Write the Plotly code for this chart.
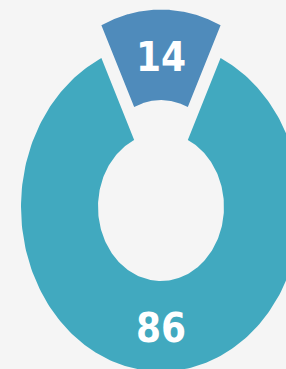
import numpy as np
import plotly.graph_objects as go

# ---- data ----
labels = ["Segment A", "Segment B"]
values = [14, 86]
colors = ["#4F8BBB", "#41A9BF"]
pulls = [0.2, 0.0]

HOLE = 0.45
BG = "#F5F5F5"
LABEL_DY = -0.036  # small visual correction for text baseline

total = float(sum(values))
fig = go.Figure()

angle = -values[0] / total * 180.0  # centre first slice at the top
for lab, v, c, p in zip(labels, values, colors, pulls):
    span = v / total * 360.0
    th = np.radians(np.linspace(angle, angle + span, 240))
    mid = np.radians(angle + span / 2.0)
    dx, dy = p * np.sin(mid), p * np.cos(mid)
    xs = np.concatenate([np.sin(th), HOLE * np.sin(th[::-1])]) + dx
    ys = np.concatenate([np.cos(th), HOLE * np.cos(th[::-1])]) + dy
    fig.add_trace(go.Scatter(
        x=xs, y=ys, fill="toself", fillcolor=c, mode="lines",
        line=dict(width=0, color=c), name=lab, hoverinfo="skip",
        showlegend=False))
    rm = (1 + HOLE) / 2.0
    fig.add_trace(go.Scatter(
        x=[rm * np.sin(mid) + dx], y=[rm * np.cos(mid) + dy + LABEL_DY],
        mode="text", text=[str(v)],
        textfont=dict(family="Liberation Sans Narrow, DejaVu Sans Condensed, sans-serif",
                      size=40, color="white", weight="bold"),
        hoverinfo="skip", showlegend=False))
    angle += span

fig.update_layout(
    width=286, height=369,
    margin=dict(l=0, r=0, t=0, b=0),
    paper_bgcolor=BG, plot_bgcolor=BG,
    xaxis=dict(range=[-1.15, 0.893], visible=False, fixedrange=True),
    yaxis=dict(range=[-0.985, 1.258], visible=False, fixedrange=True),
)

fig.write_html("out.html", config={"displayModeBar": False},
               post_script="document.body.style.margin='0';")
